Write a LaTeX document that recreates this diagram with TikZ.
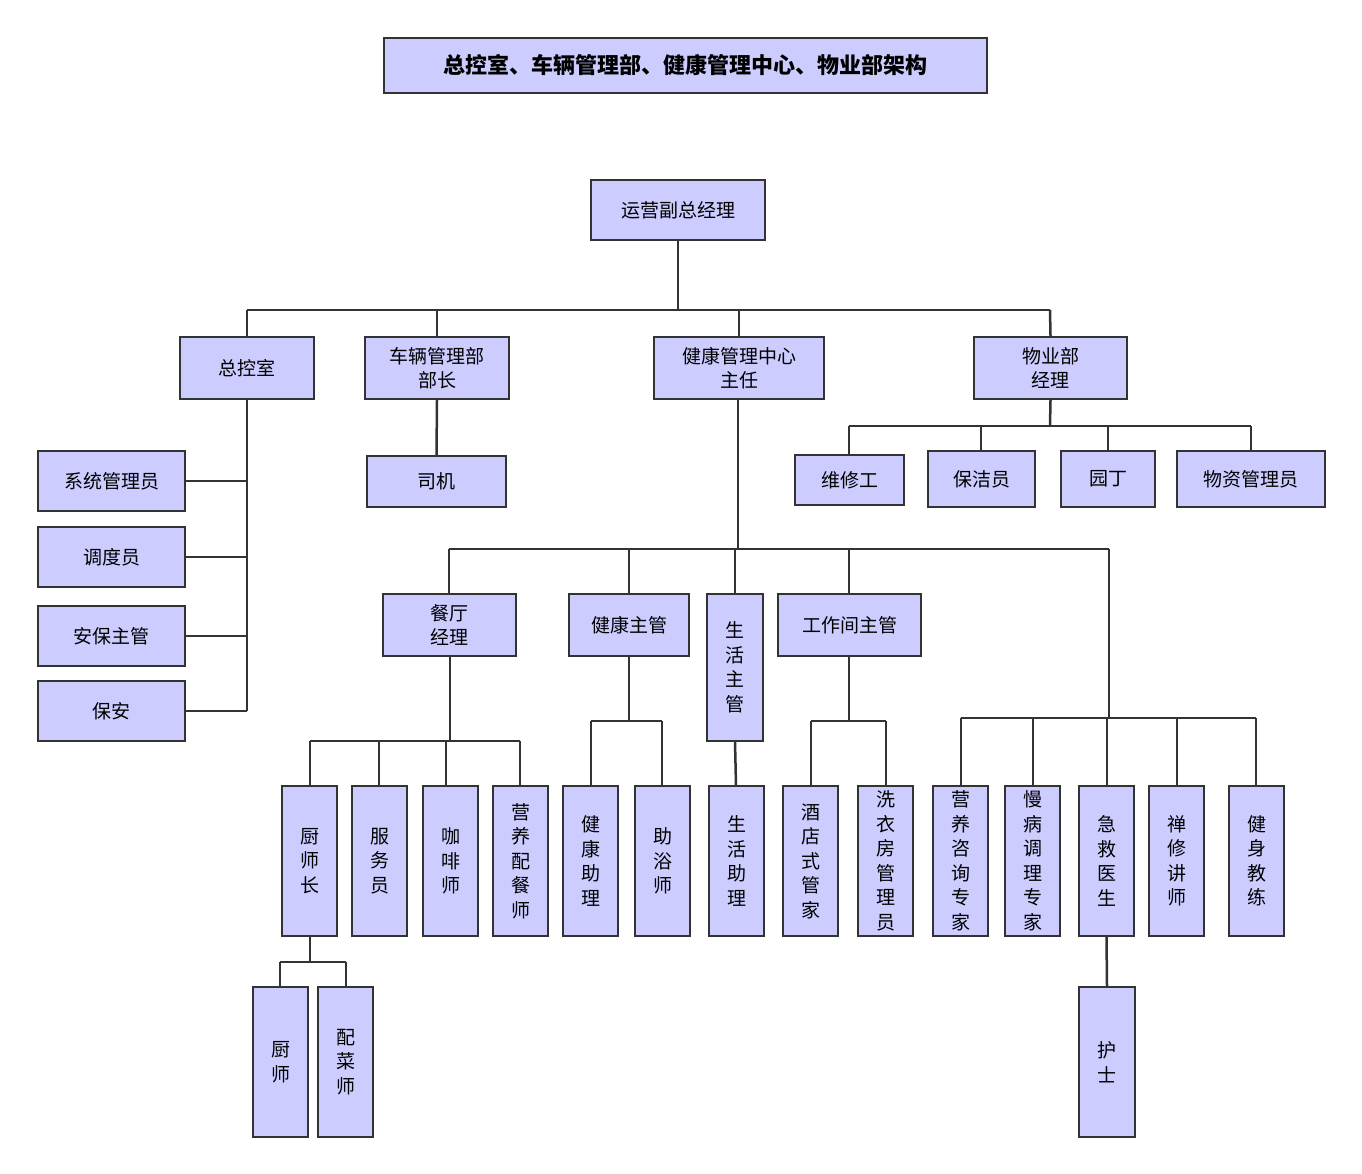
\documentclass[tikz,border=0pt]{standalone}
\usepackage{fontspec}
\setmainfont{Noto Sans CJK SC}
\begin{document}
\begin{tikzpicture}[x=1pt,y=-1pt,
 bx/.style={draw=black!80,fill=blue!20!white,line width=2pt,inner sep=0pt,align=center,font=\fontsize{19}{24.5}\selectfont},
 ln/.style={draw=black!80,line width=2.5pt}]
\definecolor{bf}{HTML}{CCCCFF}
\tikzset{bx/.append style={fill=bf}}
\useasboundingbox (0,0) rectangle (1362,1174);
\newcommand\bx[6]{\node[bx,minimum width={#4-#2},minimum height={#5-#3}] (#1) at ({(#2+#4)/2},{(#3+#5)/2}) {#6};}
\node[bx,minimum width=603,minimum height=55,font=\bfseries\fontsize{22}{26}\selectfont] (title) at (685.5,65.5) {总控室、车辆管理部、健康管理中心、物业部架构};
\bx{top}{591}{180}{765}{240}{运营副总经理}
\bx{zk}{180}{337}{314}{399}{总控室}
\bx{cl}{365}{337}{509}{399}{车辆管理部\\部长}
\bx{jk}{654}{337}{824}{399}{健康管理中心\\主任}
\bx{wy}{974}{337}{1127}{399}{物业部\\经理}
\bx{xt}{38}{451}{185}{511}{系统管理员}
\bx{dd}{38}{527}{185}{587}{调度员}
\bx{ab}{38}{606}{185}{666}{安保主管}
\bx{ba}{38}{681}{185}{741}{保安}
\bx{sj}{367}{456}{506}{507}{司机}
\bx{wx}{795}{455}{904}{505}{维修工}
\bx{bj}{928}{451}{1035}{507}{保洁员}
\bx{yd}{1061}{451}{1155}{507}{园丁}
\bx{wz}{1177}{451}{1325}{507}{物资管理员}
\bx{ct}{383}{594}{516}{656}{餐厅\\经理}
\bx{jz}{569}{594}{689}{656}{健康主管}
\bx{sh}{707}{594}{763}{741}{生\\活\\主\\管}
\bx{gz}{778}{594}{921}{656}{工作间主管}
\bx{csz}{282}{786}{337}{936}{厨\\师\\长}
\bx{fw}{352}{786}{407}{936}{服\\务\\员}
\bx{kf}{423}{786}{478}{936}{咖\\啡\\师}
\bx{yy}{493}{786}{548}{936}{营\\养\\配\\餐\\师}
\bx{jkz}{563}{786}{618}{936}{健\\康\\助\\理}
\bx{zy}{635}{786}{690}{936}{助\\浴\\师}
\bx{shz}{709}{786}{764}{936}{生\\活\\助\\理}
\bx{jd}{783}{786}{838}{936}{酒\\店\\式\\管\\家}
\bx{xy}{858}{786}{913}{936}{洗\\衣\\房\\管\\理\\员}
\bx{yz}{933}{786}{988}{936}{营\\养\\咨\\询\\专\\家}
\bx{mb}{1005}{786}{1060}{936}{慢\\病\\调\\理\\专\\家}
\bx{jj}{1079}{786}{1134}{936}{急\\救\\医\\生}
\bx{cx}{1149}{786}{1204}{936}{禅\\修\\讲\\师}
\bx{js}{1229}{786}{1284}{936}{健\\身\\教\\练}
\bx{cs}{253}{987}{308}{1137}{厨\\师}
\bx{pc}{318}{987}{373}{1137}{配\\菜\\师}
\bx{hs}{1079}{987}{1135}{1137}{护\\士}
% connectors
\draw[ln] (top.south) -- (678,310);
\draw[ln] (247,310) -- (1050,310);
\foreach \n/\x in {zk/247,cl/437,jk/739,wy/1050} \draw[ln] (\x,310) -- (\n.north);
\draw[ln] (zk.south) -- (247,711);
\foreach \n in {xt,dd,ab,ba} \draw[ln] (\n.east) -- (247,0 |- \n.east);
\draw[ln] (cl.south) -- (sj.north);
\draw[ln] (wy.south) -- (1050,426);
\draw[ln] (849,426) -- (1251,426);
\foreach \n/\x in {wx/849,bj/981,yd/1108,wz/1251} \draw[ln] (\x,426) -- (\x,0 |- \n.north);
\draw[ln] (738,399) -- (738,549);
\draw[ln] (449,549) -- (1109,549);
\foreach \n/\x in {ct/449,jz/629,sh/735,gz/849} \draw[ln] (\x,549) -- (\x,594);
\coordinate (r) at (1109,718);
\draw[ln] (1109,549) -- (r);
\draw[ln] (450,656) -- (450,741);
\draw[ln] (310,741) -- (520,741);
\foreach \x in {310,379,446,520} \draw[ln] (\x,741) -- (\x,786);
\draw[ln] (629,656) -- (629,721);
\draw[ln] (591,721) -- (662,721);
\foreach \x in {591,662} \draw[ln] (\x,721) -- (\x,786);
\draw[ln] (735,741) -- (736,786);
\draw[ln] (849,656) -- (849,721);
\draw[ln] (811,721) -- (886,721);
\foreach \x in {811,886} \draw[ln] (\x,721) -- (\x,786);
\draw[ln] (961,718) -- (1256,718);
\foreach \x in {961,1033,1107,1177,1256} \draw[ln] (\x,718) -- (\x,786);
\draw[ln] (310,936) -- (310,962);
\draw[ln] (280,962) -- (346,962);
\foreach \x in {280,346} \draw[ln] (\x,962) -- (\x,987);
\draw[ln] (jj.south) -- (hs.north);
\end{tikzpicture}
\end{document}
